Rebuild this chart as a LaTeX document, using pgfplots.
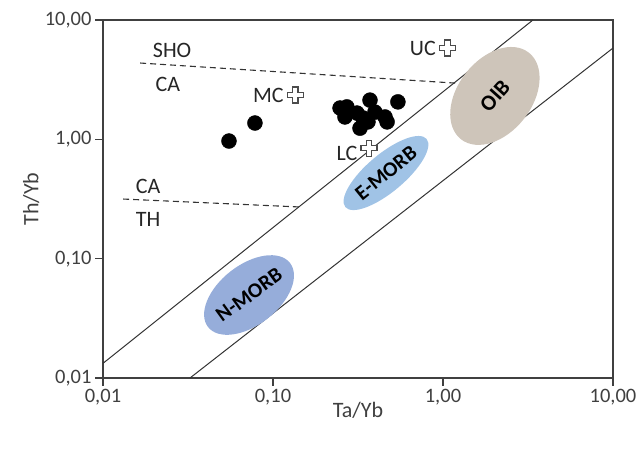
\documentclass[border=0pt]{standalone}
\usepackage{fontspec}
\setmainfont{Carlito}
\usepackage{pgfplots}
\pgfplotsset{compat=1.18}
\definecolor{oibc}{RGB}{206,197,186}
\definecolor{emorbc}{RGB}{160,195,230}
\definecolor{nmorbc}{RGB}{150,173,218}
\definecolor{axc}{RGB}{64,64,64}
\pgfdeclareplotmark{hplus}{%
  \pgfmathsetmacro{\ra}{\pgfplotmarksize}%
  \pgfmathsetmacro{\ha}{0.36*\pgfplotmarksize}%
  \pgfpathmoveto{\pgfpoint{-\ha pt}{\ra pt}}%
  \pgfpathlineto{\pgfpoint{\ha pt}{\ra pt}}%
  \pgfpathlineto{\pgfpoint{\ha pt}{\ha pt}}%
  \pgfpathlineto{\pgfpoint{\ra pt}{\ha pt}}%
  \pgfpathlineto{\pgfpoint{\ra pt}{-\ha pt}}%
  \pgfpathlineto{\pgfpoint{\ha pt}{-\ha pt}}%
  \pgfpathlineto{\pgfpoint{\ha pt}{-\ra pt}}%
  \pgfpathlineto{\pgfpoint{-\ha pt}{-\ra pt}}%
  \pgfpathlineto{\pgfpoint{-\ha pt}{-\ha pt}}%
  \pgfpathlineto{\pgfpoint{-\ra pt}{-\ha pt}}%
  \pgfpathlineto{\pgfpoint{-\ra pt}{\ha pt}}%
  \pgfpathlineto{\pgfpoint{-\ha pt}{\ha pt}}%
  \pgfpathclose
  \pgfusepathqfillstroke}
\begin{document}
\begin{tikzpicture}[x=1pt,y=1pt]
\begin{axis}[
  at={(0,0)}, anchor=south west,
  scale only axis, width=510pt, height=358pt,
  xmode=log, ymode=log,
  xmin=0.01, xmax=10, ymin=0.01, ymax=10,
  xtick={0.01,0.1,1,10}, ytick={0.01,0.1,1,10},
  xticklabels={{0,01},{0,10},{1,00},{10,00}},
  yticklabels={{0,01},{0,10},{1,00},{10,00}},
  xminorticks=false, yminorticks=false,
  tick align=outside, major tick length=8pt,
  xtick pos=bottom, ytick pos=left,
  axis line style={draw=axc, line width=1.3pt},
  tick style={draw=axc, line width=1.2pt},
  ticklabel style={font=\fontsize{20.5}{24}\selectfont, text=axc},
  xlabel={Ta/Yb}, ylabel={Th/Yb},
  label style={font=\fontsize{22}{26}\selectfont, text=axc},
  xlabel style={at={(axis description cs:0.5,-0.09)}, anchor=center},
  ylabel style={at={(axis description cs:-0.141,0.5)}, anchor=center},
  clip=true,
]
% diagonal boundaries
\addplot[black!80, line width=1pt] coordinates {(0.01,0.01327) (3.38,10)};
\addplot[black!80, line width=1pt] coordinates {(0.0325,0.01) (10,5.82)};
% dashed boundaries
\addplot[black!80, line width=1.1pt, dash pattern=on 6pt off 4pt] coordinates {(0.01652,4.36) (1.178,2.96)};
\addplot[black!80, line width=1.1pt, dash pattern=on 6pt off 4pt] coordinates {(0.01312,0.316) (0.144,0.271)};
% fields
\fill[oibc, rotate around={52:(axis cs:2.02,2.31)}] (axis cs:2.02,2.31) ellipse (55pt and 37pt);
\fill[emorbc, rotate around={40:(axis cs:0.462,0.522)}] (axis cs:0.462,0.522) ellipse (53pt and 19pt);
\fill[nmorbc, rotate around={38:(axis cs:0.0723,0.0496)}] (axis cs:0.0723,0.0496) ellipse (52pt and 30pt);
\node[rotate=48, font=\fontsize{22}{26}\selectfont\bfseries] at (axis cs:2.02,2.31) {OIB};
\node[rotate=39, font=\fontsize{21}{25}\selectfont\bfseries] at (axis cs:0.462,0.522) {E-MORB};
\node[rotate=36, font=\fontsize{21}{25}\selectfont\bfseries] at (axis cs:0.0723,0.0496) {N-MORB};
% samples
\addplot[only marks, mark=*, mark size=7.5pt, mark options={fill=black, draw=black}] coordinates {
 (0.0551,0.968) (0.0783,1.37) (0.543,2.06)
 (0.272,1.87) (0.372,2.13) (0.265,1.54) (0.312,1.66) (0.338,1.51)
 (0.325,1.24) (0.456,1.54) (0.398,1.69) (0.362,1.40) (0.469,1.40) (0.248,1.83)
};
% crustal reservoirs
\addplot[only marks, mark=hplus, mark size=8pt, mark options={fill=white, draw=black!70, line width=1.1pt}] coordinates {
 (1.06,5.82) (0.135,2.35) (0.367,0.845)
};
% labels
\begin{scope}[every node/.style={font=\fontsize{22}{26}\selectfont, text=black!85}]
\node at (axis cs:0.0255,5.61) {SHO};
\node at (axis cs:0.0241,2.91) {CA};
\node at (axis cs:0.0184,0.406) {CA};
\node at (axis cs:0.0184,0.215) {TH};
\node[anchor=east] at (axis cs:1.06,5.82) [xshift=-8pt] {UC};
\node[anchor=east] at (axis cs:0.135,2.35) [xshift=-8pt] {MC};
\node[anchor=east] at (axis cs:0.367,0.845) [xshift=-8pt, yshift=-5pt] {LC};
\end{scope}
\end{axis}
\pgfresetboundingbox
\path[use as bounding box] (-103,-76) rectangle (539,378);
\end{tikzpicture}
\end{document}
